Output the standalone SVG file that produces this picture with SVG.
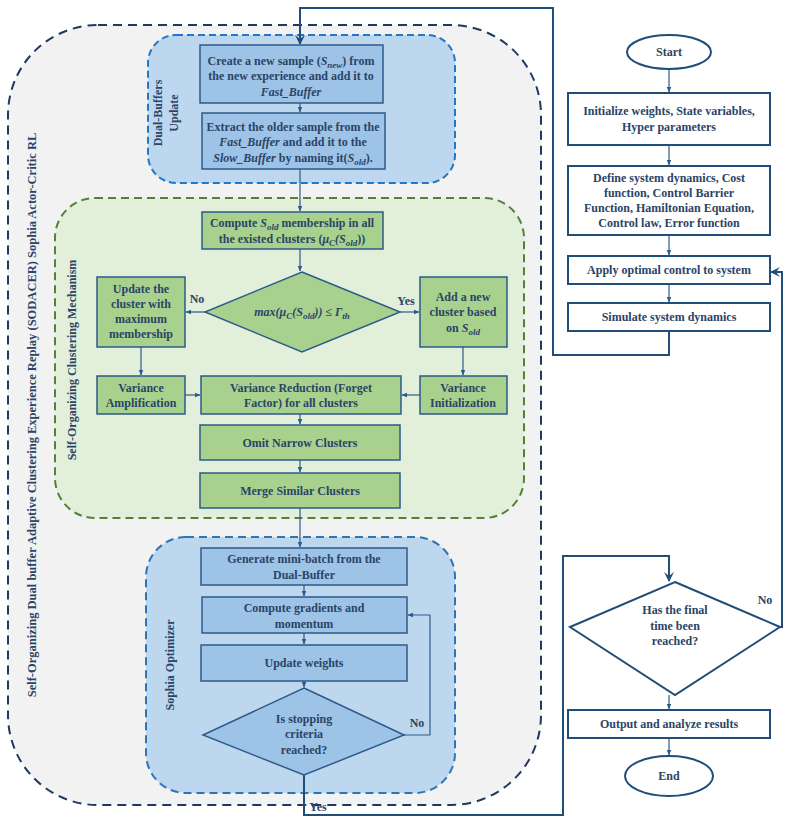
<svg xmlns="http://www.w3.org/2000/svg" width="789" height="825" viewBox="0 0 789 825">
<defs>
<marker id="ar" viewBox="0 0 10 10" refX="9" refY="5" markerWidth="5" markerHeight="5" orient="auto-start-reverse"><path d="M0,1 L10,5 L0,9 z" fill="#2e5a8a"/></marker>
<marker id="arb" viewBox="0 0 10 10" refX="9" refY="5" markerWidth="5" markerHeight="6" orient="auto-start-reverse"><path d="M0,0 L10,5 L0,10 L4,5 z" fill="#1f4e79"/></marker>
</defs>
<style>
text{font-family:"Liberation Serif",serif;font-weight:bold;fill:#2b4466;font-size:12px;text-anchor:middle}
.bb{fill:#9dc3e6;stroke:#2e5a8a;stroke-width:1.5}
.gb{fill:#a9d18e;stroke:#2e5a8a;stroke-width:1.5}
.wb{fill:#fff;stroke:#1f4e79;stroke-width:2}
.c{fill:none;stroke:#2e5a8a;stroke-width:1.2}
.cb{fill:none;stroke:#1f4e79;stroke-width:2}
.lbl{font-size:12.5px}
i{font-style:italic}
</style>
<rect x="0" y="0" width="789" height="825" fill="#fff"/>
<g id="outer">
<rect x="8" y="25" width="533" height="780" rx="90" fill="#f2f2f2" stroke="#1f3864" stroke-width="2" stroke-dasharray="9,6"/>
<text class="lbl" transform="translate(36,415) rotate(-90)">Self-Organizing Dual buffer Adaptive Clustering Experience Replay (SODACER) Sophia Actor-Critic RL</text>
</g>
<g id="dual">
<rect x="148" y="35" width="307" height="148" rx="28" fill="#bdd7ee" stroke="#1f78c8" stroke-width="2" stroke-dasharray="7,4"/>
<text transform="translate(162,113) rotate(-90)">Dual-Buffers</text>
<text transform="translate(178,113) rotate(-90)">Update</text>
</g>
<g id="green">
<rect x="55" y="198" width="469" height="320" rx="40" fill="#e2efda" stroke="#548235" stroke-width="2" stroke-dasharray="8,5"/>
<text transform="translate(76,360) rotate(-90)">Self-Organizing Clustering Mechanism</text>
</g>
<g id="sophia">
<rect x="146" y="537" width="309" height="256" rx="40" fill="#bdd7ee" stroke="#2e75b6" stroke-width="2" stroke-dasharray="8,5"/>
<text transform="translate(174,665) rotate(-90)">Sophia Optimizer</text>
</g>
<g id="connectors">
<line class="c" x1="300" y1="103" x2="300" y2="112" marker-end="url(#ar)"/>
<line class="c" x1="300" y1="169" x2="300" y2="211" marker-end="url(#ar)"/>
<line class="c" x1="300" y1="249" x2="300" y2="271" marker-end="url(#ar)"/>
<line class="c" x1="205" y1="312" x2="186" y2="312" marker-end="url(#ar)"/>
<line class="c" x1="400" y1="312" x2="419" y2="312" marker-end="url(#ar)"/>
<line class="c" x1="141" y1="347" x2="141" y2="375" marker-end="url(#ar)"/>
<line class="c" x1="463" y1="347" x2="463" y2="375" marker-end="url(#ar)"/>
<line class="c" x1="185" y1="395" x2="200" y2="395" marker-end="url(#ar)"/>
<line class="c" x1="420" y1="395" x2="402" y2="395" marker-end="url(#ar)"/>
<line class="c" x1="300" y1="414" x2="300" y2="424" marker-end="url(#ar)"/>
<line class="c" x1="300" y1="460" x2="300" y2="472" marker-end="url(#ar)"/>
<line class="c" x1="300" y1="508" x2="300" y2="547" marker-end="url(#ar)"/>
<line class="c" x1="304" y1="585" x2="304" y2="596" marker-end="url(#ar)"/>
<line class="c" x1="304" y1="633" x2="304" y2="644" marker-end="url(#ar)"/>
<line class="c" x1="304" y1="681" x2="304" y2="687" marker-end="url(#ar)"/>
<polyline class="c" points="404,735 430,735 430,615 408,615" marker-end="url(#ar)"/>
<polyline class="cb" points="669,331 669,355 553,355 553,8 300,8 300,44" marker-end="url(#arb)"/>
<line class="c" x1="669" y1="69" x2="669" y2="92" marker-end="url(#ar)"/>
<line class="c" x1="669" y1="145" x2="669" y2="165" marker-end="url(#ar)"/>
<line class="c" x1="669" y1="235" x2="669" y2="255" marker-end="url(#ar)"/>
<line class="c" x1="669" y1="284" x2="669" y2="302" marker-end="url(#ar)"/>
<polyline class="cb" points="304,775 304,815 563,815 563,556 669,556 669,581" marker-end="url(#arb)"/>
<polyline class="cb" points="780,627 782,627 782,272 771,272" marker-end="url(#arb)"/>
<line class="c" x1="669" y1="695" x2="669" y2="709" marker-end="url(#ar)"/>
<line class="c" x1="669" y1="738" x2="669" y2="755" marker-end="url(#ar)"/>
<text x="197" y="303">No</text>
<text x="406" y="305">Yes</text>
<text x="417" y="727">No</text>
<text x="318" y="811">Yes</text>
<text x="765" y="604">No</text>
<text x="687" y="676">Yes</text>
</g>
<g id="n1"><rect class="bb" x="200" y="45" width="183" height="58"/>
<text x="291" y="65">Create a new sample (<tspan font-style="italic">S<tspan font-size="9" dy="3">new</tspan></tspan><tspan dy="-3">) from</tspan></text>
<text x="291" y="80">the new experience and add it to</text>
<text x="291" y="96" font-style="italic">Fast_Buffer</text></g>
<g id="n2"><rect class="bb" x="202" y="113" width="183" height="56"/>
<text x="293" y="131">Extract the older sample from the</text>
<text x="293" y="146"><tspan font-style="italic">Fast_Buffer</tspan> and add it to the</text>
<text x="293" y="162"><tspan font-style="italic">Slow_Buffer</tspan> by naming it(<tspan font-style="italic">S<tspan font-size="9" dy="3">old</tspan></tspan><tspan dy="-3">).</tspan></text></g>
<g id="n3"><rect class="gb" x="202" y="212" width="181" height="37"/>
<text x="292" y="227">Compute <tspan font-style="italic">S<tspan font-size="9" dy="3">old</tspan></tspan><tspan dy="-3"> membership in all</tspan></text>
<text x="292" y="243">the existed clusters (<tspan font-style="italic">μ<tspan font-size="9" dy="3">C</tspan><tspan dy="-3">(S</tspan><tspan font-size="9" dy="3">old</tspan></tspan><tspan dy="-3">))</tspan></text></g>
<g id="d1"><polygon points="302,272 400,312 302,352 205,312" fill="#a9d18e" stroke="#2e5a8a" stroke-width="1.5"/>
<text x="302" y="316" font-style="italic" font-weight="normal" font-size="13">max(μ<tspan font-size="9" dy="3">C</tspan><tspan dy="-3">(S</tspan><tspan font-size="9" dy="3">old</tspan><tspan dy="-3">)) ≤ Γ</tspan><tspan font-size="9" dy="3">th</tspan></text></g>
<g id="n4"><rect class="gb" x="97" y="277" width="88" height="70"/>
<text x="141" y="293">Update the</text><text x="141" y="308">cluster with</text><text x="141" y="323">maximum</text><text x="141" y="338">membership</text></g>
<g id="n5"><rect class="gb" x="420" y="277" width="87" height="70"/>
<text x="463" y="301">Add a new</text><text x="463" y="316">cluster based</text><text x="463" y="332">on <tspan font-style="italic">S<tspan font-size="9" dy="3">old</tspan></tspan></text></g>
<g id="n6"><rect class="gb" x="97" y="376" width="88" height="38"/>
<text x="141" y="392">Variance</text><text x="141" y="407">Amplification</text></g>
<g id="n7"><rect class="gb" x="201" y="376" width="200" height="38"/>
<text x="301" y="392">Variance Reduction (Forget</text><text x="301" y="407">Factor) for all clusters</text></g>
<g id="n8"><rect class="gb" x="420" y="376" width="87" height="38"/>
<text x="463" y="392">Variance</text><text x="463" y="407">Initialization</text></g>
<g id="n9"><rect class="gb" x="200" y="425" width="200" height="35"/><text x="300" y="447">Omit Narrow Clusters</text></g>
<g id="n10"><rect class="gb" x="200" y="473" width="200" height="35"/><text x="300" y="495">Merge Similar Clusters</text></g>
<g id="n11"><rect class="bb" x="201" y="548" width="206" height="37"/>
<text x="304" y="563">Generate mini-batch from the</text><text x="304" y="579">Dual-Buffer</text></g>
<g id="n12"><rect class="bb" x="202" y="597" width="205" height="36"/>
<text x="304" y="612">Compute gradients and</text><text x="304" y="628">momentum</text></g>
<g id="n13"><rect class="bb" x="201" y="645" width="206" height="36"/><text x="304" y="667">Update weights</text></g>
<g id="d2"><polygon points="304,688 404,735 304,775 203,735" fill="#9dc3e6" stroke="#2e5a8a" stroke-width="1.5"/>
<text x="304" y="723">Is stopping</text><text x="304" y="738">criteria</text><text x="304" y="754">reached?</text></g>
<g id="start"><ellipse class="wb" cx="669" cy="52" rx="42" ry="17"/><text x="669" y="56">Start</text></g>
<g id="r1"><rect class="wb" x="568" y="93" width="202" height="52"/>
<text x="669" y="115">Initialize weights, State variables,</text><text x="669" y="131">Hyper parameters</text></g>
<g id="r2"><rect class="wb" x="568" y="166" width="202" height="69"/>
<text x="669" y="182">Define system dynamics, Cost</text><text x="669" y="197">function, Control Barrier</text><text x="669" y="212">Function, Hamiltonian Equation,</text><text x="669" y="227">Control law, Error function</text></g>
<g id="r3"><rect class="wb" x="568" y="256" width="202" height="28"/><text x="669" y="274">Apply optimal control to system</text></g>
<g id="r4"><rect class="wb" x="568" y="303" width="202" height="28"/><text x="669" y="321">Simulate system dynamics</text></g>
<g id="d3"><polygon points="675,582 780,627 675,695 570,627" fill="#fff" stroke="#1f4e79" stroke-width="2"/>
<text x="675" y="614">Has the final</text><text x="675" y="630">time been</text><text x="675" y="645">reached?</text></g>
<g id="r5"><rect class="wb" x="568" y="710" width="202" height="28"/><text x="669" y="728">Output and analyze results</text></g>
<g id="end"><ellipse class="wb" cx="669" cy="776" rx="44" ry="20"/><text x="669" y="780">End</text></g>
</svg>
